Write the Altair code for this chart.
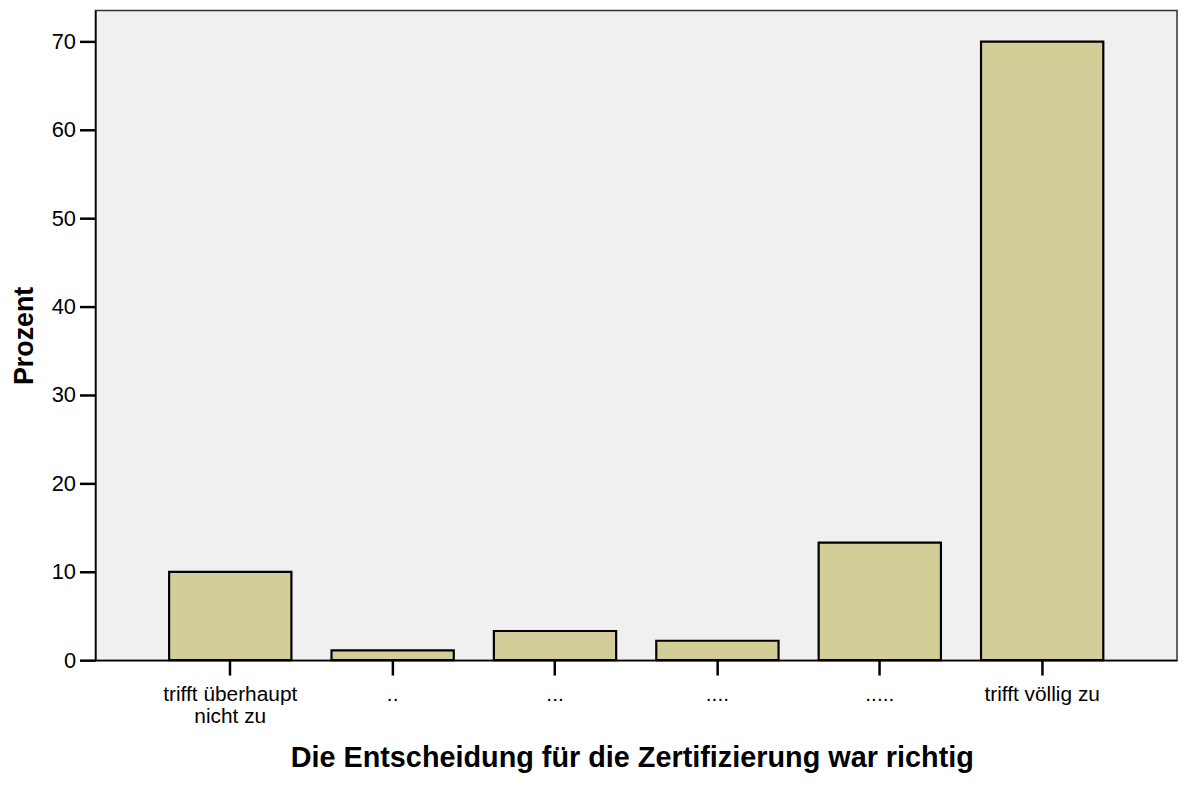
import altair as alt
import pandas as pd

categories = ["trifft überhaupt|nicht zu", "..", "...", "....", ".....", "trifft völlig zu"]
percent = [10.0, 1.1, 3.3, 2.2, 13.3, 70.0]
y_ticks = [0, 10, 20, 30, 40, 50, 60, 70]

df = pd.DataFrame({"kategorie": categories, "prozent": percent})

FONT = "Liberation Sans"

bars = alt.Chart(df).mark_bar(
    fill="#d3ce97", stroke="#000000", strokeWidth=2.2
).encode(
    x=alt.X(
        "kategorie:N",
        sort=categories,
        scale=alt.Scale(paddingInner=0.247, paddingOuter=0.454),
        axis=alt.Axis(
            title="Die Entscheidung für die Zertifizierung war richtig",
            titleFont=FONT, titleFontSize=29, titleFontWeight="bold", titleColor="#000",
            titleX=540, titleY=107, titleBaseline="alphabetic", titleAlign="center",
            labelExpr="split(datum.label, '|')",
            labelFont=FONT, labelFontSize=21, labelColor="#000", labelAngle=0,
            labelLineHeight=22, labelPadding=9, labelBaseline="top",
            tickSize=15, tickWidth=2.5, tickColor="#000",
            domainColor="#000", domainWidth=1.5,
            grid=False,
        ),
    ),
    y=alt.Y(
        "prozent:Q",
        scale=alt.Scale(domain=[0, 73.5], nice=False, zero=True),
        axis=alt.Axis(
            title="Prozent",
            titleFont=FONT, titleFontSize=27, titleFontWeight="bold", titleColor="#000",
            titleX=-63, titleY=327, titleBaseline="alphabetic", titleAlign="center", titleAngle=-90,
            values=y_ticks,
            labelFont=FONT, labelFontSize=22, labelColor="#000", labelPadding=4,
            tickSize=16, tickWidth=2.5, tickColor="#000",
            domainColor="#000", domainWidth=1.5,
            grid=False,
        ),
    ),
).properties(
    width=1089,
    height=654,
    autosize=alt.AutoSizeParams(type="none"),
    padding={"left": 88, "top": 0, "right": 4, "bottom": 115},
).configure(
    background="#ffffff"
).configure_view(
    fill="#f0f0f0", stroke="#333333", strokeWidth=1.5
)

bars.save("out.html", embed_options={"renderer": "svg", "actions": False})
